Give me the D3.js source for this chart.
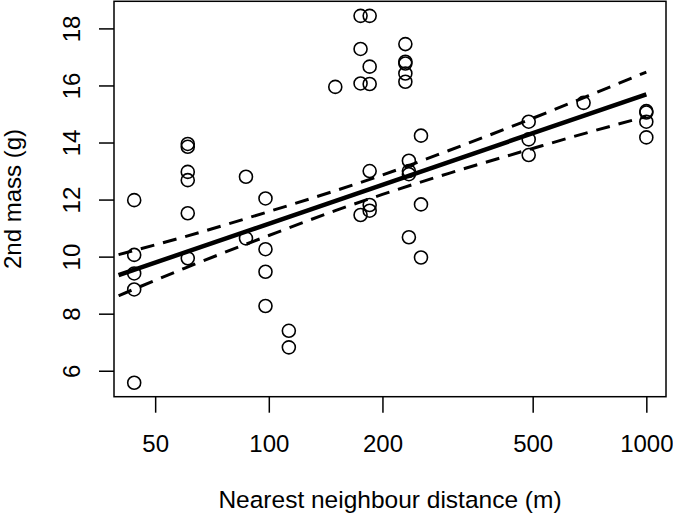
<!DOCTYPE html>
<html>
<head>
<meta charset="utf-8">
<script src="https://cdn.jsdelivr.net/npm/d3@7"></script>
<style>
    body { margin: 0; background: #fff; }
    svg { display: block; font-family: "Liberation Sans", Arial, sans-serif; }
</style>
</head>
<body>
<div id="chart"></div>
<script>

    // observed points: distance (m) and 2nd mass (g)
    var distance = [
        44, 44, 44, 44, 44,
        61, 61, 61, 61, 61, 61,
        87, 87,
        98, 98, 98, 98,
        113, 113,
        150,
        175, 175, 175, 175,
        185, 185, 185, 185, 185, 185,
        230, 230, 230, 230, 230,
        235, 235, 235, 235,
        253, 253, 253,
        488, 488, 488,
        682,
        1000, 1000, 1000, 1000
    ];
    var mass = [
        11.98, 10.06, 9.41, 8.85, 5.58,
        13.95, 13.85, 12.97, 12.68, 11.52, 9.94,
        12.80, 10.64,
        12.04, 10.26, 9.47, 8.27,
        7.40, 6.82,
        15.95,
        18.44, 17.28, 16.07, 11.46,
        18.44, 16.66, 16.05, 13.00, 11.81, 11.61,
        17.45, 16.83, 16.77, 16.42, 16.13,
        13.36, 13.00, 12.89, 10.68,
        14.24, 11.83, 9.97,
        14.73, 14.11, 13.56,
        15.39,
        15.10, 15.05, 14.73, 14.18
    ];

    // fitted line and its confidence band
    var fitX = [40, 1000];
    var fitY = [9.35, 15.69];
    var bandX = [40, 60, 100, 150, 200, 300, 500, 700, 1000];
    var bandUpper = [10.07, 10.70, 11.58, 12.31, 12.86, 13.72, 14.85, 15.63, 16.47];
    var bandLower = [8.63, 9.60, 10.74, 11.61, 12.18, 12.92, 13.79, 14.35, 14.91];

    var xTicks = [50, 100, 200, 500, 1000];
    var yTicks = [6, 8, 10, 12, 14, 16, 18];

    var width = 673, height = 517;
    var box = { left: 114, right: 666, top: 1.3, bottom: 396.7 };

    var svg = d3.select('#chart').append('svg')
        .attr('width', width)
        .attr('height', height);

    var x = d3.scaleLog()
        .domain([38.9, 1127.5])
        .range([box.left, box.right]);

    var y = d3.scaleLinear()
        .domain([5.09, 18.95])
        .range([box.bottom, box.top]);

    // axes (R style: ticks outside, labels parallel to axis)
    var xAxis = svg.append('g')
        .attr('transform', 'translate(0,' + box.bottom + ')')
        .call(d3.axisBottom(x).tickValues(xTicks).tickFormat(d3.format('d'))
            .tickSize(16).tickPadding(22).tickSizeOuter(0));
    xAxis.select('.domain').remove();
    xAxis.selectAll('line').attr('stroke', '#000').attr('stroke-width', 1.5);
    xAxis.selectAll('text')
        .attr('font-size', 24)
        .attr('fill', '#000');

    var yAxis = svg.append('g')
        .attr('transform', 'translate(' + box.left + ',0)')
        .call(d3.axisLeft(y).tickValues(yTicks).tickSize(15).tickSizeOuter(0));
    yAxis.select('.domain').remove();
    yAxis.selectAll('line').attr('stroke', '#000').attr('stroke-width', 1.5);
    yAxis.selectAll('text')
        .attr('font-size', 24)
        .attr('fill', '#000')
        .attr('text-anchor', 'middle')
        .attr('dy', 0)
        .attr('x', 0)
        .attr('transform', 'translate(-34,0) rotate(-90)');

    // plot frame
    svg.append('rect')
        .attr('x', box.left)
        .attr('y', box.top)
        .attr('width', box.right - box.left)
        .attr('height', box.bottom - box.top)
        .attr('fill', 'none')
        .attr('stroke', '#000')
        .attr('stroke-width', 1.5);

    // points
    svg.append('g').selectAll('circle')
        .data(distance)
        .enter().append('circle')
        .attr('cx', function (d) { return x(d); })
        .attr('cy', function (d, i) { return y(mass[i]); })
        .attr('r', 6.5)
        .attr('fill', 'none')
        .attr('stroke', '#000')
        .attr('stroke-width', 1.6);

    // confidence band
    var band = d3.line()
        .x(function (d) { return x(d[0]); })
        .y(function (d) { return y(d[1]); })
        .curve(d3.curveMonotoneX);

    [bandUpper, bandLower].forEach(function (vals) {
        svg.append('path')
            .attr('d', band(d3.zip(bandX, vals)))
            .attr('fill', 'none')
            .attr('stroke', '#000')
            .attr('stroke-width', 3)
            .attr('stroke-dasharray', '14,9');
    });

    // fitted line
    svg.append('path')
        .attr('d', band(d3.zip(fitX, fitY)))
        .attr('fill', 'none')
        .attr('stroke', '#000')
        .attr('stroke-width', 4.5);

    // axis titles
    svg.append('text')
        .attr('x', (box.left + box.right) / 2)
        .attr('y', 508)
        .attr('text-anchor', 'middle')
        .attr('font-size', 24.5)
        .text('Nearest neighbour distance (m)');

    svg.append('text')
        .attr('transform', 'translate(21,' + (box.top + box.bottom) / 2 + ') rotate(-90)')
        .attr('text-anchor', 'middle')
        .attr('font-size', 24)
        .text('2nd mass (g)');

</script>
</body>
</html>
